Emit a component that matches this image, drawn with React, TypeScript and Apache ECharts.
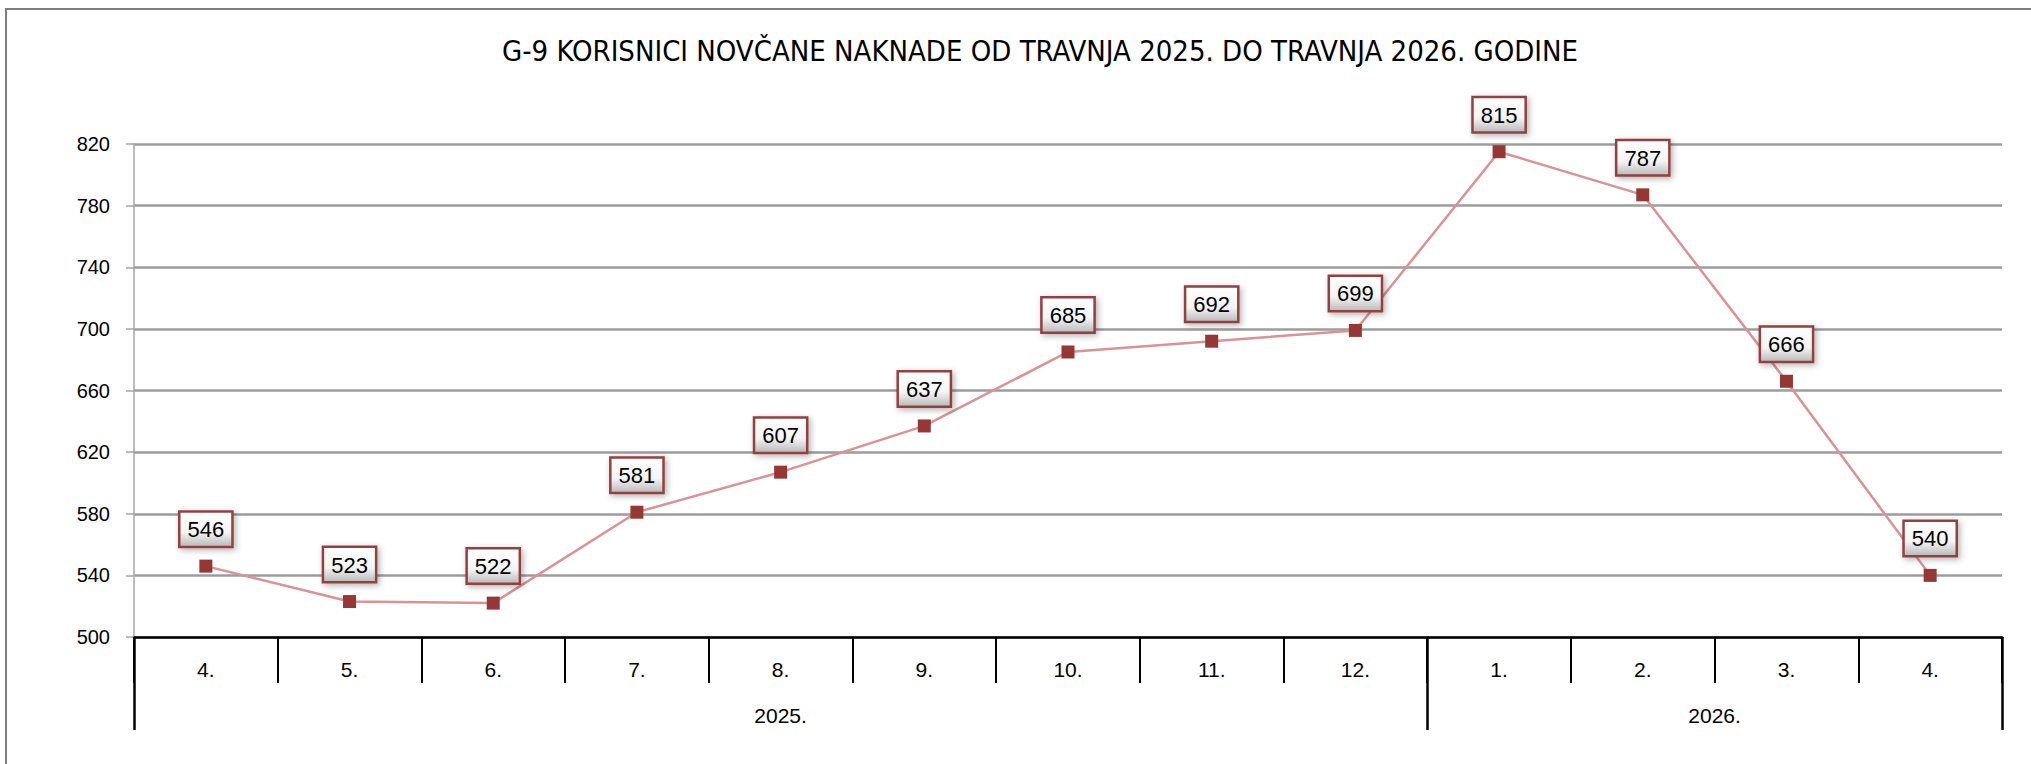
import React, { useEffect, useRef } from "react";
import * as echarts from "echarts";

const titleText = "G-9 KORISNICI NOVČANE NAKNADE OD TRAVNJA 2025. DO TRAVNJA 2026. GODINE";
const months = ["4.", "5.", "6.", "7.", "8.", "9.", "10.", "11.", "12.", "1.", "2.", "3.", "4."];
const values = [546, 523, 522, 581, 607, 637, 685, 692, 699, 815, 787, 666, 540];
const years = ["2025.", "2026."];
const monthsPerYear = [9, 4];
const yMin = 500;
const yMax = 820;
const yStep = 40;

export default function App() {
  const ref = useRef<HTMLDivElement>(null);
  useEffect(() => {
    if (!ref.current) return;
    const chart = echarts.init(ref.current, null, { renderer: "svg" });
    const bounds: number[] = [0];
    monthsPerYear.forEach((n, i) => bounds.push(bounds[i] + n));
    const centers = monthsPerYear.map((n, i) => bounds[i] + n / 2);
    const font = "'Liberation Sans', Arial, sans-serif";
    chart.setOption({
      animation: false,
      backgroundColor: "#ffffff",
      title: {
        text: titleText,
        left: 1040,
        top: 35,
        textAlign: "center",
        padding: 0,
        textStyle: {
          fontFamily: "'Liberation Sans Narrow', 'DejaVu Sans Condensed', sans-serif",
          fontWeight: "normal",
          fontSize: 29,
          lineHeight: 32,
          color: "#000",
        },
      },
      graphic: [
        {
          type: "rect",
          shape: { x: 6, y: 9, width: 2200, height: 1000 },
          style: { fill: "none", stroke: "#7f7f7f", lineWidth: 2 },
          silent: true,
        },
      ],
      grid: { left: 134, right: 29, top: 144, bottom: 127, containLabel: false },
      xAxis: [
        {
          type: "category",
          data: months,
          boundaryGap: true,
          axisLine: { show: true, lineStyle: { color: "#000", width: 2.5 } },
          axisTick: { show: true, interval: 0, length: 46, lineStyle: { color: "#000", width: 2 } },
          axisLabel: { interval: 0, margin: 21, fontSize: 21, fontFamily: font, color: "#000", lineHeight: 22 },
          splitLine: { show: false },
        },
        {
          type: "value",
          min: 0,
          max: months.length,
          position: "bottom",
          axisLine: { show: false },
          splitLine: { show: false },
          axisTick: {
            show: true,
            customValues: bounds,
            length: 93,
            lineStyle: { color: "#000", width: 2.5 },
          },
          axisLabel: {
            show: true,
            customValues: centers,
            formatter: (v: number) => {
              const i = centers.indexOf(v);
              return i >= 0 ? years[i] : "";
            },
            margin: 67,
            fontSize: 21,
            fontFamily: font,
            color: "#000",
            lineHeight: 22,
          },
        },
      ],
      yAxis: {
        type: "value",
        min: yMin,
        max: yMax,
        interval: yStep,
        axisLine: { show: true, lineStyle: { color: "#a6a6a6", width: 1.5 } },
        axisTick: { show: true, length: 8, lineStyle: { color: "#a6a6a6", width: 1.5 } },
        axisLabel: { margin: 24, fontSize: 20, fontFamily: font, color: "#000" },
        splitLine: { show: true, lineStyle: { color: "#9c9c9c", width: 2.5 } },
      },
      series: [
        {
          type: "line",
          data: values,
          xAxisIndex: 0,
          yAxisIndex: 0,
          symbol: "rect",
          symbolSize: 13,
          itemStyle: { color: "#953735" },
          lineStyle: { color: "#dc9292", width: 2.5 },
          z: 3,
          label: {
            show: true,
            position: "top",
            distance: 14,
            fontSize: 22,
            fontFamily: font,
            color: "#000",
            padding: [6, 7, 5, 7],
            backgroundColor: new echarts.graphic.LinearGradient(0, 0, 0, 1, [
              { offset: 0, color: "#ffffff" },
              { offset: 0.6, color: "#f4f4f4" },
              { offset: 1, color: "#bdbdbd" },
            ]),
            borderColor: "#93403f",
            borderWidth: 2.5,
            shadowColor: "rgba(0,0,0,0.3)",
            shadowBlur: 6,
            shadowOffsetX: 2,
            shadowOffsetY: 2,
          },
        },
      ],
    });
    return () => chart.dispose();
  }, []);
  return (
    <div
      ref={ref}
      style={{ position: "fixed", left: 0, top: 0, width: 2031, height: 764 }}
    />
  );
}
